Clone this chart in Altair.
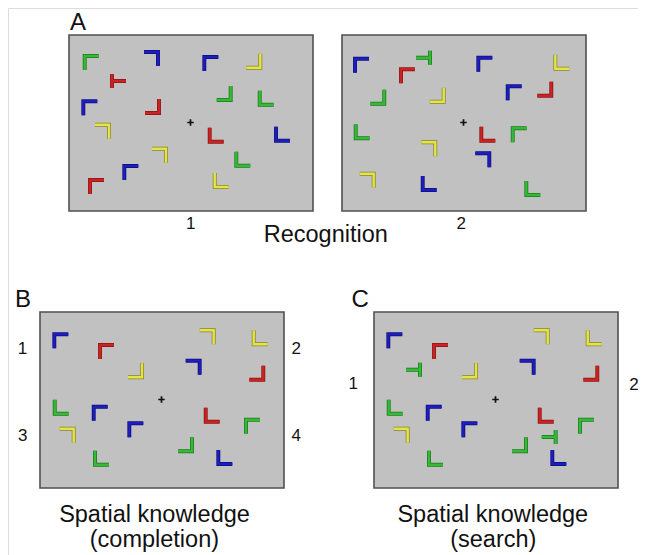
import altair as alt
import pandas as pd

# ---------------- data (positions of stimuli inside each display, px from display's top-left) ----
# shape codes: G = corner top-left, 7 = corner top-right, J = corner bottom-right,
#              L = corner bottom-left, TR = T with stem to the right, TL = T with stem to the left
a1_x = [22.7, 82.0, 50.0, 21.3, 83.0, 33.0, 90.0, 62.3, 28.0, 142.3, 184.3, 154.7, 197.7, 147.7, 214.0, 174.3, 152.7]
a1_y = [28.0, 24.0, 46.0, 73.3, 71.0, 96.7, 120.7, 138.0, 152.0, 29.0, 25.7, 58.0, 62.7, 99.7, 98.7, 123.7, 145.0]
a1_color = ["g", "b", "r", "b", "r", "y", "y", "b", "r", "b", "y", "g", "g", "r", "b", "g", "y"]
a1_shape = ["G", "7", "TR", "G", "J", "7", "7", "G", "G", "G", "J", "J", "L", "L", "L", "L", "L"]

a2_x = [20.0, 81.0, 66.0, 35.3, 94.7, 143.3, 220.3, 172.7, 202.3, 20.7, 146.3, 177.7, 86.3, 140.3, 24.7, 87.7, 191.3]
a2_y = [30.7, 22.7, 41.3, 61.7, 59.7, 29.7, 26.7, 58.3, 53.7, 96.3, 98.7, 100.3, 114.3, 125.3, 145.7, 148.0, 153.0]
a2_color = ["b", "g", "r", "g", "y", "b", "y", "b", "r", "g", "r", "g", "y", "b", "y", "b", "g"]
a2_shape = ["G", "TL", "G", "J", "J", "G", "L", "G", "J", "L", "L", "G", "7", "7", "7", "L", "L"]

b_x = [21.3, 67.0, 95.0, 166.7, 220.7, 152.7, 216.3, 21.7, 60.7, 26.7, 96.3, 62.0, 172.7, 213.0, 145.0, 185.3]
b_y = [29.3, 40.0, 58.3, 25.3, 25.3, 55.7, 60.7, 94.7, 101.7, 123.7, 118.3, 145.7, 102.7, 114.7, 132.3, 145.0]
b_color = ["b", "r", "y", "y", "y", "b", "r", "g", "b", "y", "b", "g", "r", "g", "g", "b"]
b_shape = ["G", "G", "J", "7", "L", "7", "J", "L", "G", "7", "G", "L", "L", "G", "J", "L"]

# display C = display B plus the two search targets
c_extra_x = [39.0, 174.7]
c_extra_y = [57.7, 125.0]
c_extra_color = ["g", "g"]
c_extra_shape = ["TL", "TL"]

display_labels = ["1", "2", "1", "2", "3", "4", "1", "2"]
panel_letters = ["A", "B", "C"]
captions = ["Recognition", "Spatial knowledge", "(completion)", "Spatial knowledge", "(search)"]

# ---------------- layout & style ----------------
ORIGIN = {"A1": (69, 35), "A2": (342, 35), "B": (40, 312), "C": (374, 312)}
PW, PH = 244, 176
CROSS = (121.5, 87.5)

PATHS = {
    "G": "M1,-1L-1,-1L-1,1",
    "7": "M-1,-1L1,-1L1,1",
    "J": "M1,-1L1,1L-1,1",
    "L": "M-1,-1L-1,1L1,1",
    "TR": "M-1,-1L-1,1M-1,0L1,0",
    "TL": "M1,-1L1,1M1,0L-1,0",
}
MAIN = {"r": "#cc2222", "g": "#34ba34", "b": "#1e1ebe", "y": "#e4e44a"}
EDGE = {"r": "#8a1414", "g": "#1c781c", "b": "#0c0c7c", "y": "#86862a"}

rows = []
for panel, xs, ys, cs, ss in [
    ("A1", a1_x, a1_y, a1_color, a1_shape),
    ("A2", a2_x, a2_y, a2_color, a2_shape),
    ("B", b_x, b_y, b_color, b_shape),
    ("C", b_x + c_extra_x, b_y + c_extra_y, b_color + c_extra_color, b_shape + c_extra_shape),
]:
    ox, oy = ORIGIN[panel]
    for x, y, c, s in zip(xs, ys, cs, ss):
        rows.append({"px": ox + x, "py": oy + y, "main": MAIN[c], "edge": EDGE[c], "path": PATHS[s]})
items = pd.DataFrame(rows)

panels = pd.DataFrame([
    {"x0": ox, "x1": ox + PW, "y0": oy, "y1": oy + PH, "cx": ox + CROSS[0], "cy": oy + CROSS[1]}
    for ox, oy in ORIGIN.values()
])

num_pos = [(190.7, 229), (461.3, 229), (22.5, 354), (296.3, 354), (22.8, 441), (296.3, 441),
           (353.3, 388.5), (634.0, 390)]
nums = pd.DataFrame({"t": display_labels, "x": [p[0] for p in num_pos], "y": [p[1] for p in num_pos]})

let_pos = [(70, 29.5), (15, 306.5), (351.5, 306.5)]
letters = pd.DataFrame({"t": panel_letters, "x": [p[0] for p in let_pos], "y": [p[1] for p in let_pos]})

cap_pos = [(325.8, 242.3), (154.5, 522.3), (154.4, 546.7), (492.8, 522.3), (493.3, 546.7)]
caps = pd.DataFrame({"t": captions, "x": [p[0] for p in cap_pos], "y": [p[1] for p in cap_pos]})

W, H = 630, 547
xs_ = alt.Scale(domain=[8, 8 + W], nice=False, zero=False)
ys_ = alt.Scale(domain=[8, 8 + H], nice=False, zero=False, reverse=True)


def X(f):
    return alt.X(f, type="quantitative", scale=xs_, axis=None)


def Y(f):
    return alt.Y(f, type="quantitative", scale=ys_, axis=None)


rects = alt.Chart(panels).mark_rect(fill="#c1c1c1", stroke="#505050", strokeWidth=1.6).encode(
    x=X("x0"), x2="x1", y=Y("y0"), y2="y1"
)
cross = alt.Chart(panels).mark_point(
    filled=False, strokeWidth=1.7, color="#111111", opacity=1
).encode(x=X("cx"), y=Y("cy"), shape=alt.value("M-1,0L1,0M0,-1L0,1"), size=alt.value(42))

under = alt.Chart(items).mark_point(
    filled=False, strokeWidth=3.9, strokeJoin="miter", strokeCap="butt", opacity=1
).encode(
    x=X("px"), y=Y("py"),
    shape=alt.Shape("path:N", scale=None),
    stroke=alt.Stroke("edge:N", scale=None),
    size=alt.value(195),
)
top = alt.Chart(items).mark_point(
    filled=False, strokeWidth=2.4, strokeJoin="miter", strokeCap="butt", opacity=1
).encode(
    x=X("px"), y=Y("py"),
    shape=alt.Shape("path:N", scale=None),
    stroke=alt.Stroke("main:N", scale=None),
    size=alt.value(195),
)

num_text = alt.Chart(nums).mark_text(
    align="center", baseline="alphabetic", font="Liberation Sans", fontSize=17, color="#111111"
).encode(x=X("x"), y=Y("y"), text="t:N")
let_text = alt.Chart(letters).mark_text(
    align="left", baseline="alphabetic", font="Liberation Sans", fontSize=24, color="#111111"
).encode(x=X("x"), y=Y("y"), text="t:N")
cap_text = alt.Chart(caps).mark_text(
    align="center", baseline="alphabetic", font="Liberation Sans", fontSize=23.5, color="#111111"
).encode(x=X("x"), y=Y("y"), text="t:N")

chart = alt.layer(rects, cross, under, top, num_text, let_text, cap_text).properties(
    width=W, height=H, padding=0, autosize=alt.AutoSizeParams(type="none")
).configure_view(stroke=None).configure(background="white")

chart.save("out.html", embed_options={"renderer": "svg", "actions": False})
